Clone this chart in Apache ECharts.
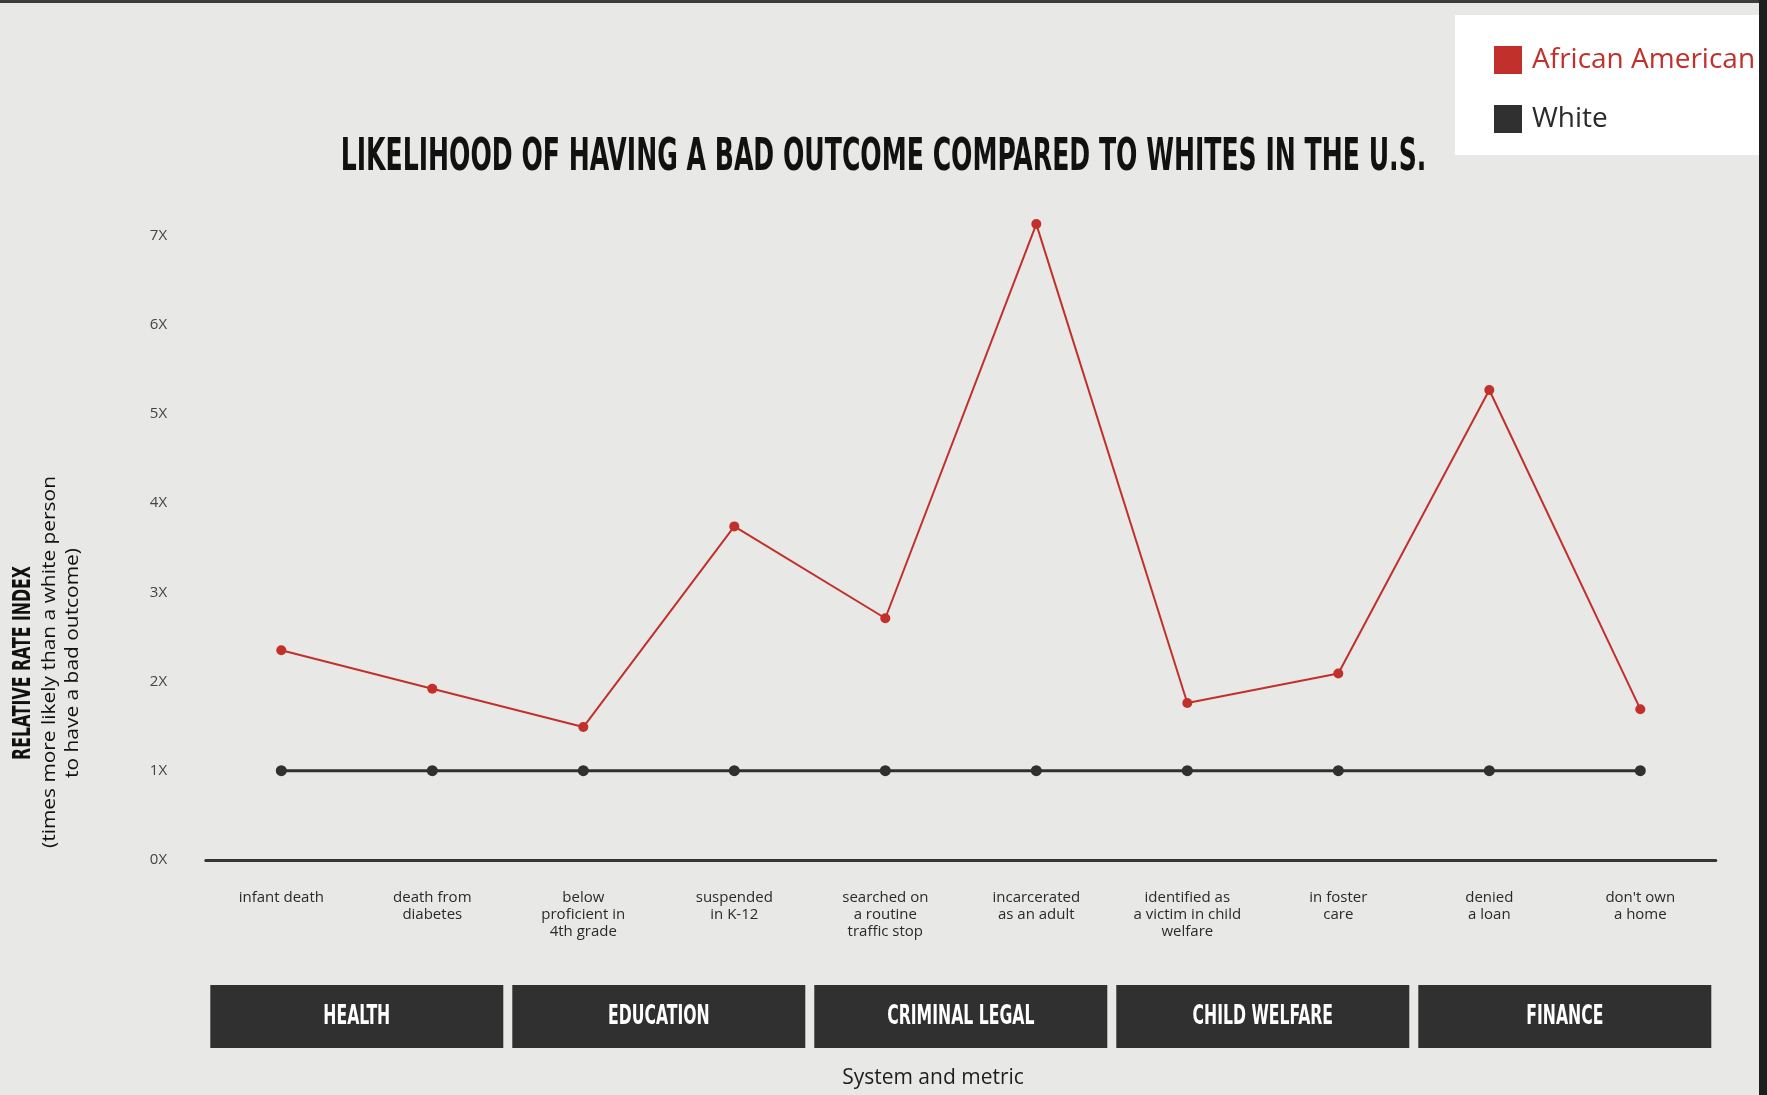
<!DOCTYPE html>
<html>
<head>
<meta charset="utf-8">
<script src="https://cdn.jsdelivr.net/npm/echarts@6/dist/echarts.min.js"></script>
<style>
html,body{margin:0;padding:0;background:#e8e8e6;}
#chart{width:1767px;height:1095px;}
</style>
</head>
<body>
<div id="chart"></div>
<script>
const metrics = [
  'infant death',
  'death from\ndiabetes',
  'below\nproficient in\n4th grade',
  'suspended\nin K-12',
  'searched on\na routine\ntraffic stop',
  'incarcerated\nas an adult',
  'identified as\na victim in child\nwelfare',
  'in foster\ncare',
  'denied\na loan',
  "don't own\na home"
];
const systems = ['HEALTH', 'EDUCATION', 'CRIMINAL LEGAL', 'CHILD WELFARE', 'FINANCE'];
const africanAmerican = [2.35, 1.92, 1.49, 3.74, 2.71, 7.13, 1.76, 2.09, 5.27, 1.69];
const white = [1, 1, 1, 1, 1, 1, 1, 1, 1, 1];
const yTicks = [0, 1, 2, 3, 4, 5, 6, 7];
const titleText = 'LIKELIHOOD OF HAVING A BAD OUTCOME COMPARED TO WHITES IN THE U.S.';

const RED = '#c1302a';
const DARK = '#303030';
const NARROW = '"Liberation Sans Narrow", "DejaVu Sans Condensed", "DejaVu Sans", sans-serif';
const BODY = '"Open Sans", "Noto Sans", sans-serif';

const chart = echarts.init(document.getElementById('chart'));
chart.setOption({
  backgroundColor: '#e8e8e6',
  animation: false,
  legend: {
    orient: 'vertical',
    left: 1455,
    top: 15,
    padding: [31, 20, 22, 39],
    backgroundColor: '#ffffff',
    icon: 'rect',
    itemWidth: 28,
    itemHeight: 28,
    itemGap: 31,
    textStyle: { fontFamily: BODY, fontSize: 28, lineHeight: 28, padding: [0, 0, 0, 5] },
    data: [
      { name: 'African American', textStyle: { color: RED } },
      { name: 'White', textStyle: { color: '#2a2a2a' } }
    ]
  },
  grid: { left: 205.8, right: 51.2, top: 146.5, bottom: 235.1 },
  xAxis: [
    {
      type: 'category',
      data: metrics,
      boundaryGap: true,
      axisLine: { show: true, lineStyle: { color: '#353535', width: 3 } },
      axisTick: { show: false },
      axisLabel: {
        interval: 0, margin: 29.5, fontFamily: BODY, fontSize: 15, lineHeight: 17, color: '#2a2a2a'
      }
    },
    {
      type: 'category',
      data: systems,
      position: 'bottom',
      show: false
    }
  ],
  yAxis: {
    type: 'value',
    min: 0, max: 8, interval: 1,
    axisLine: { show: false },
    axisTick: { show: false },
    splitLine: { show: false },
    axisLabel: {
      align: 'left', margin: 56, fontFamily: BODY, fontSize: 15, color: '#444',
      formatter: v => (yTicks.indexOf(v) >= 0 ? v + 'X' : '')
    }
  },
  series: [
    {
      name: 'African American', type: 'line', data: africanAmerican,
      symbol: 'circle', symbolSize: 10, clip: false,
      itemStyle: { color: RED }, lineStyle: { color: RED, width: 2 }, z: 3
    },
    {
      name: 'White', type: 'line', data: white,
      symbol: 'circle', symbolSize: 11, clip: false,
      itemStyle: { color: DARK }, lineStyle: { color: DARK, width: 3 }, z: 2
    }
  ]
});

// Category boxes placed from the system axis scale
const baseY = chart.convertToPixel({ yAxisIndex: 0 }, 0);
const boxTop = baseY + 125;
const boxH = 63;
const boxW = 293;
const boxes = [];
systems.forEach((s, i) => {
  const cx = chart.convertToPixel({ xAxisIndex: 1 }, s);
  boxes.push({
    type: 'rect', shape: { x: cx - boxW / 2, y: boxTop, width: boxW, height: boxH },
    style: { fill: DARK }, z: 10
  });
  boxes.push({
    type: 'text', x: cx, y: boxTop + boxH / 2 + 1, scaleX: 0.67, z: 11,
    style: { text: s, font: 'bold 26px ' + NARROW, fill: '#ffffff', textAlign: 'center', textVerticalAlign: 'middle' }
  });
});

chart.setOption({
  graphic: [
    {
      type: 'text', x: 883.5, y: 159, scaleX: 0.635,
      style: { text: titleText, font: 'bold 44px ' + NARROW, fill: '#111', textAlign: 'center', textVerticalAlign: 'middle' }
    },
    {
      type: 'text', x: 24, y: 663, rotation: Math.PI / 2, scaleX: 0.73,
      style: { text: 'RELATIVE RATE INDEX', font: 'bold 24px ' + NARROW, fill: '#111', textAlign: 'center', textVerticalAlign: 'middle' }
    },
    {
      type: 'text', x: 50, y: 662, rotation: Math.PI / 2, scaleX: 1.1,
      style: { text: '(times more likely than a white person', font: '19px ' + BODY, fill: '#111', textAlign: 'center', textVerticalAlign: 'middle' }
    },
    {
      type: 'text', x: 72.5, y: 663, rotation: Math.PI / 2, scaleX: 1.1,
      style: { text: 'to have a bad outcome)', font: '19px ' + BODY, fill: '#111', textAlign: 'center', textVerticalAlign: 'middle' }
    },
    {
      type: 'text', x: 933, y: 1078,
      style: { text: 'System and metric', font: '21px ' + BODY, fill: '#1e1e1e', textAlign: 'center', textVerticalAlign: 'middle' }
    }
  ].concat(boxes).concat([
    { type: 'rect', shape: { x: 0, y: 0, width: 1767, height: 3 }, style: { fill: '#3c3c3c' }, z: 100 },
    { type: 'rect', shape: { x: 1759, y: 0, width: 8, height: 1095 }, style: { fill: '#1e1e1e' }, z: 100 }
  ])
});
</script>
</body>
</html>
